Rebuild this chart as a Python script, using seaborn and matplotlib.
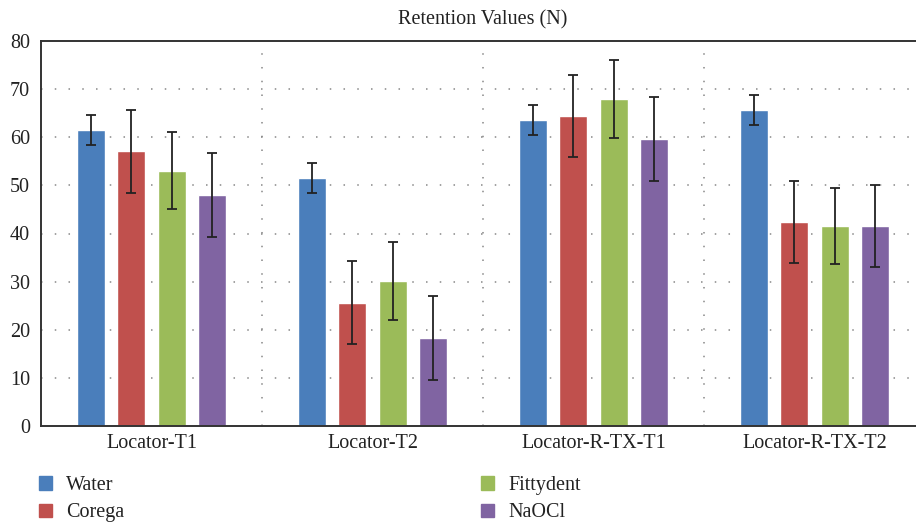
import numpy as np
import pandas as pd
import matplotlib
matplotlib.use("Agg")
import matplotlib.pyplot as plt
import seaborn as sns

categories = ["Locator-T1", "Locator-T2", "Locator-R-TX-T1", "Locator-R-TX-T2"]
solutions = ["Water", "Corega", "Fittydent", "NaOCl"]
water = [61.5, 51.5, 63.6, 65.7]
corega = [57.1, 25.6, 64.4, 42.4]
fittydent = [53.0, 30.1, 67.9, 41.6]
naocl = [48.0, 18.3, 59.6, 41.6]
water_sd = [3.1, 3.1, 3.1, 3.1]
corega_sd = [8.6, 8.6, 8.6, 8.5]
fittydent_sd = [8.0, 8.1, 8.1, 7.9]
naocl_sd = [8.7, 8.7, 8.7, 8.5]
colors = ["#4a7ebb", "#c0504d", "#9bbb59", "#8064a2"]
y_ticks = [0, 10, 20, 30, 40, 50, 60, 70, 80]

values = [water, corega, fittydent, naocl]
sds = [water_sd, corega_sd, fittydent_sd, naocl_sd]
df = pd.DataFrame({
    "Implant": categories * 4,
    "Solution": np.repeat(solutions, 4),
    "Retention": np.concatenate(values),
    "SD": np.concatenate(sds),
})

sns.set_style("white")
plt.rcParams["font.family"] = ["Liberation Serif", "DejaVu Serif"]
plt.rcParams["text.color"] = "#222222"

fig = plt.figure(figsize=(9.16, 5.25), dpi=100)
ax = fig.add_axes([41 / 916, 99 / 525, 884 / 916, 385 / 525])

sns.barplot(data=df, x="Implant", y="Retention", hue="Solution", order=categories,
            hue_order=solutions, palette=colors, width=0.724, gap=0.3,
            errorbar=None, legend=False, ax=ax, saturation=1)

# error bars on top of each bar
for cont, sd in zip(ax.containers, sds):
    xs = [p.get_x() + p.get_width() / 2 for p in cont]
    hs = [p.get_height() for p in cont]
    ax.errorbar(xs, hs, yerr=sd, fmt="none", ecolor="#222222", elinewidth=1.3,
                capsize=3.8, capthick=1.3, zorder=5)

ax.set_xlim(-0.5, 3.5)
ax.set_ylim(0, 80)
ax.set_yticks(y_ticks)
ax.set_xlabel("")
ax.set_ylabel("")
ax.tick_params(axis="both", length=0, labelsize=14.5, colors="#222222")
ax.tick_params(axis="y", pad=8)
ax.tick_params(axis="x", pad=6)

# dotted grid
for y in y_ticks[1:-1]:
    ax.axhline(y, color="#888888", lw=1.1, ls=(0, (1, 8)), zorder=0)
for x in [0.5, 1.5, 2.5]:
    ax.axvline(x, color="#888888", lw=1.1, ls=(0, (1, 8)), zorder=0)

for s in ["left", "bottom", "top"]:
    ax.spines[s].set_color("#333333")
    ax.spines[s].set_linewidth(1.4)
ax.spines["right"].set_visible(False)

ax.set_title("Retention Values (N)", fontsize=14.5, pad=12)

handles = [plt.Rectangle((0, 0), 1, 1, color=c) for c in colors]
kw = dict(frameon=False, fontsize=14.5, handlelength=0.65, handleheight=0.65,
          handletextpad=0.7, labelspacing=0.42, borderpad=0, borderaxespad=0,
          loc="upper left")
fig.legend(handles[:2], solutions[:2], bbox_to_anchor=(39 / 916, 1 - 476 / 525), **kw)
fig.legend(handles[2:], solutions[2:], bbox_to_anchor=(481 / 916, 1 - 476 / 525), **kw)

fig.savefig("out.png", dpi=100)
